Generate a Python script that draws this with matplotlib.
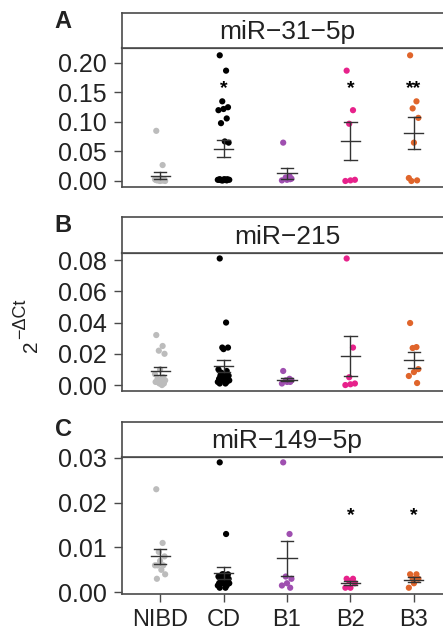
import numpy as np
import matplotlib
matplotlib.use("Agg")
from matplotlib import pyplot as plt

plt.rcParams['font.family'] = ['Liberation Sans', 'DejaVu Sans']

groups = ['NIBD', 'CD', 'B1', 'B2', 'B3']
colors = ['#bcbcbc', '#000000', '#9f4fb0', '#e7228b', '#e0652b']

# panel A: miR-31-5p
mir31 = [
    [0.085, 0.027, 0.001, 0.002, 0.000, 0.003, 0.001, 0.002, 0.004, 0.000,
     0.001, 0.002, 0.003, 0.001, 0.002],
    [0.213, 0.187, 0.135, 0.125, 0.122, 0.120, 0.106, 0.098, 0.067, 0.065,
     0.002, 0.003, 0.001, 0.002, 0.002, 0.003, 0.001, 0.002, 0.002, 0.001,
     0.003, 0.002, 0.002],
    [0.065, 0.008, 0.006, 0.004, 0.002, 0.001, 0.003],
    [0.187, 0.120, 0.097, 0.002, 0.001, 0.000],
    [0.213, 0.135, 0.123, 0.107, 0.065, 0.005, 0.001, 0.000],
]
# panel B: miR-215
mir215 = [
    [0.032, 0.025, 0.022, 0.020, 0.010, 0.007, 0.005, 0.004, 0.003, 0.003,
     0.002, 0.001, 0.001, 0.000, 0.002],
    [0.081, 0.040, 0.024, 0.024, 0.023, 0.010, 0.009, 0.008, 0.007, 0.006,
     0.006, 0.005, 0.005, 0.004, 0.004, 0.004, 0.003, 0.003, 0.002, 0.002,
     0.001, 0.001],
    [0.009, 0.004, 0.003, 0.003, 0.002, 0.001, 0.002],
    [0.081, 0.024, 0.005, 0.001, 0.0005, 0.000],
    [0.0397, 0.0243, 0.0237, 0.0102, 0.0083, 0.0058, 0.0013],
]
# panel C: miR-149-5p
mir149 = [
    [0.023, 0.011, 0.009, 0.008, 0.007, 0.006, 0.006, 0.006, 0.005, 0.004,
     0.003],
    [0.029, 0.013, 0.004, 0.004, 0.004, 0.0035, 0.0035, 0.003, 0.003, 0.003,
     0.003, 0.003, 0.0025, 0.0025, 0.002, 0.002, 0.002, 0.002, 0.0015, 0.0015,
     0.001, 0.001],
    [0.029, 0.013, 0.0035, 0.003, 0.002, 0.0015, 0.001],
    [0.003, 0.003, 0.0025, 0.002, 0.001, 0.001],
    [0.004, 0.004, 0.003, 0.003, 0.002, 0.001],
]

titles = ['miR\u221231\u22125p', 'miR\u2212215', 'miR\u2212149\u22125p']
letters = ['A', 'B', 'C']
yticks = [[0.00, 0.05, 0.10, 0.15, 0.20],
          [0.00, 0.02, 0.04, 0.06, 0.08],
          [0.00, 0.01, 0.02, 0.03]]
ylims = [(-0.0102, 0.2254), (-0.0038, 0.0845), (-0.0004, 0.0302)]
# significance marks: (group index, label, y)
stars = [[(1, '*', 0.157), (3, '*', 0.157), (4, '**', 0.157)],
         [],
         [(3, '*', 0.0171), (4, '*', 0.0171)]]

# fixed jitter pattern (x offsets only)
jit = [-0.06, 0.04, -0.02, 0.07, 0.0, -0.08, 0.05, -0.04, 0.02, 0.08,
       -0.05, 0.06, -0.01, 0.03, -0.07, 0.01, -0.03, 0.09, -0.09, 0.05,
       -0.06, 0.03, 0.0, -0.02]

W, H = 443, 630
fig = plt.figure(figsize=(W / 100, H / 100), dpi=100)


def px_axes(x0, y0, x1, y1):
    return fig.add_axes([x0 / W, 1 - y1 / H, (x1 - x0) / W, (y1 - y0) / H])


frame_col = '#4a4a4a'
txt_col = '#222222'
boxes = [(13, 48, 187), (217, 253, 391), (422, 457, 594)]
data = [mir31, mir215, mir149]

for p in range(3):
    top, mid, bot = boxes[p]
    ax = px_axes(122, mid, 452, bot)
    st = px_axes(122, top, 452, mid)

    for i, vals in enumerate(data[p]):
        vals = np.array(vals)
        xs = i + 1 + np.array(jit[:len(vals)])
        ax.scatter(xs, vals, s=20, color=colors[i], edgecolors='none', zorder=2)
        m = vals.mean()
        se = vals.std(ddof=1) / np.sqrt(len(vals))
        c = i + 1
        ax.plot([c, c], [m - se, m + se], color='#333333', lw=1.0, zorder=3)
        ax.plot([c - 0.15, c + 0.15], [m, m], color='#333333', lw=1.0, zorder=3)
        ax.plot([c - 0.1, c + 0.1], [m - se, m - se], color='#333333', lw=1.0, zorder=3)
        ax.plot([c - 0.1, c + 0.1], [m + se, m + se], color='#333333', lw=1.0, zorder=3)

    for gi, lab, yv in stars[p]:
        ax.text(gi + 1, yv, lab, ha='center', va='center', fontsize=14,
                fontweight='bold', color='black')

    ax.set_xlim(0.4, 5.6)
    ax.set_ylim(*ylims[p])
    ax.set_yticks(yticks[p])
    ax.set_yticklabels(['%.2f' % v for v in yticks[p]])
    ax.tick_params(axis='y', length=6, width=1.0, color=frame_col, pad=5,
                   labelsize=18, labelcolor=txt_col)
    if p == 2:
        ax.set_xticks(range(1, 6))
        ax.set_xticklabels(groups)
        ax.tick_params(axis='x', length=6, width=1.0, color=frame_col, pad=5,
                       labelsize=17, labelcolor=txt_col)
    else:
        ax.set_xticks([])
    for s in ax.spines.values():
        s.set_color(frame_col)
        s.set_linewidth(1.2)
    ax.spines['top'].set_linewidth(1.6)

    st.set_xticks([])
    st.set_yticks([])
    for s in st.spines.values():
        s.set_color(frame_col)
        s.set_linewidth(1.2)
    st.text(0.5, 0.45, titles[p], ha='center', va='center', fontsize=19,
            color=txt_col, transform=st.transAxes)

    fig.text(63 / W, 1 - (top + 8) / H, letters[p], ha='center', va='center',
             fontsize=17, fontweight='bold', color=txt_col)

# y label 2^(-dCt), base and superscript drawn as two rotated texts
fig.text(31 / W, 1 - 346 / H, '2', rotation=90, ha='center', va='center',
         fontsize=15, color=txt_col)
fig.text(21 / W, 1 - 319 / H, '\u2212\u0394Ct', rotation=90, ha='center',
         va='center', fontsize=13, color=txt_col)

fig.savefig('out.png', dpi=100)
